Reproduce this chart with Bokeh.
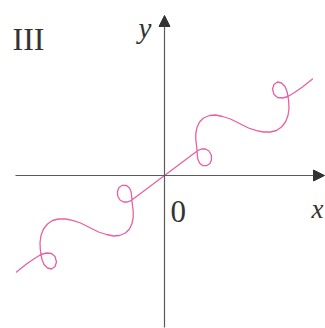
from bokeh.plotting import figure
from bokeh.models import Range1d, Arrow, NormalHead
from bokeh.core.properties import value
from bokeh.embed import file_html
from bokeh.resources import INLINE

# ---- data: parametric curve (lower-left end -> upper-right end)
curve_x = [-148, -138, -130, -123.5, -118, -113, -109.5, -108, -109.5, -113, -117, -120.5,
           -122.5, -123.5, -124.2, -124.5, -123.5, -121, -117, -112, -106, -99, -92, -84,
           -75, -66, -58, -51, -45, -39, -35, -32.5, -31.3, -31.3, -32, -32.6, -32.8, -33.3,
           -35, -38, -42, -45.5, -47, -46.8, -44.5, -41, -37, -33, -30, -24, -16, -8,
           0,
           8, 16, 24, 30, 33, 37, 41, 44.5, 46.8, 47, 45.5, 42, 38, 35, 33.3, 32.8, 32.6,
           32, 31.3, 31.3, 32.5, 35, 39, 45, 51, 58, 66, 75, 84, 92, 99, 106, 112, 117,
           121, 123.5, 124.5, 124.2, 123.5, 122.5, 120.5, 117, 113, 109.5, 108, 109.5, 113,
           118, 123.5, 130, 138, 148]
curve_y = [-96.5, -88.5, -83, -79, -77.5, -78, -81, -86.5, -91, -93.5, -92.5, -89,
           -84, -79, -74, -67, -60, -53.5, -48.5, -45, -43.5, -43.5, -44.8, -47.5,
           -52, -56.5, -59, -60.5, -60, -57.5, -53.5, -48, -42, -36, -30, -25, -21, -16.5,
           -12.5, -10, -9.8, -12, -16, -20.5, -24.5, -26.5, -26.5, -24.8, -22.5, -18, -12, -6,
           0,
           6, 12, 18, 22.5, 24.8, 26.5, 26.5, 24.5, 20.5, 16, 12, 9.8, 10, 12.5, 16.5, 21, 25,
           30, 36, 42, 48, 53.5, 57.5, 60, 60.5, 59, 56.5, 52, 47.5, 44.8, 43.5, 43.5, 45, 48.5,
           53.5, 60, 67, 74, 79, 84, 89, 92.5, 93.5, 91, 86.5, 81, 78,
           77.5, 79, 83, 88.5, 96.5]

# ---- text labels
label_text = ["III", "y", "0", "x"]

# ---- layout (1 data unit = 1 pixel, axes cross at page pixel (164,175))
W, H = 325, 328
p = figure(width=W, height=H, x_range=Range1d(-164, 161), y_range=Range1d(-153, 175),
           output_backend="svg", toolbar_location=None, min_border=0)
p.axis.visible = False
p.grid.visible = False
p.outline_line_color = None
p.background_fill_color = "white"

axis_col = "#5a5a5a"
p.add_layout(Arrow(end=NormalHead(size=11, fill_color="#333333", line_color="#333333", line_width=1),
                   x_start=-149, y_start=0, x_end=160, y_end=0,
                   line_color=axis_col, line_width=1.2))
p.add_layout(Arrow(end=NormalHead(size=11, fill_color="#333333", line_color="#333333", line_width=1),
                   x_start=0, y_start=-152, x_end=0, y_end=160,
                   line_color=axis_col, line_width=1.2))

p.line(curve_x, curve_y, line_color="#e9609f", line_width=1.3, line_join="round", line_cap="round")

pos_x = [-152, -26, 6, 147]
pos_y = [137, 148, -36, -33]
styles = ["normal", "italic", "normal", "italic"]
sizes = ["32px", "29px", "31px", "27px"]
for t, x, y, s, fs in zip(label_text, pos_x, pos_y, styles, sizes):
    p.text(x=[x], y=[y], text=[t], text_font=value("Liberation Serif"),
           text_font_style=s, text_font_size=fs, text_color="#333333",
           text_align="left", text_baseline="alphabetic")

open("out.html", "w").write(file_html(p, INLINE))
